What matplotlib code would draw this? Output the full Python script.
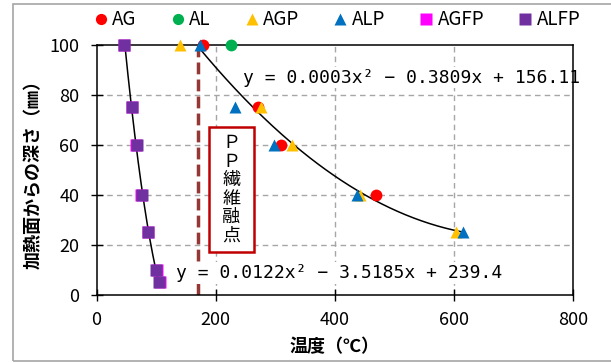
import numpy as np
import matplotlib
matplotlib.use("Agg")
import matplotlib.pyplot as plt
from matplotlib.patches import Rectangle

plt.rcParams['font.family'] = ['Noto Sans CJK JP', 'DejaVu Sans']

# depth from the heated surface (mm) and measured peak temperature (°C)
ag_t = [178, 270, 310, 469]
ag_d = [100, 75, 60, 40]
al_t = [226]
al_d = [100]
agp_t = [140, 276, 328, 442, 603]
agp_d = [100, 75, 60, 40, 25]
alp_t = [173, 232, 298, 437, 614]
alp_d = [100, 75, 60, 40, 25]
agfp_t = [46, 60, 66, 74.5, 87, 101, 107]
agfp_d = [100, 75, 60, 40, 25, 10, 5]
alfp_t = [46.5, 59, 67.3, 75.6, 86.7, 99.6, 104.1]
alfp_d = [100, 75, 60, 40, 25, 10, 5]

# quadratic trendlines y = a x^2 + b x + c
fit_main = (0.000273, -0.3809, 156.11)
fit_main_range = (170, 614)
fit_fp = (0.0122, -3.5185, 239.4)

pp_melt = 170

x_ticks = [0, 200, 400, 600, 800]
y_ticks = [0, 20, 40, 60, 80, 100]

fig = plt.figure(figsize=(6.11, 3.63), dpi=100)
ax = fig.add_axes([0.158, 0.1873, 0.7806, 0.6901])

# outer chart frame
fig.patches.append(Rectangle((13 / 611, 2 / 363), 1.2, 357 / 363, transform=fig.transFigure,
                             fill=False, edgecolor='#A6A6A6', linewidth=1.2, zorder=0))

ax.set_xlim(0, 800)
ax.set_ylim(0, 100)
ax.set_xticks(x_ticks)
ax.set_yticks(y_ticks)
ax.tick_params(direction='inout', length=9, width=1, labelsize=13, colors='black')
ax.tick_params(axis='x', pad=7)
ax.tick_params(axis='y', pad=8)
for s in ax.spines.values():
    s.set_linewidth(1.1)
    s.set_color('black')

for gx in x_ticks[1:-1]:
    ax.axvline(gx, color='#A6A6A6', lw=1, ls=(0, (4, 3)), zorder=0)
for gy in y_ticks[1:-1]:
    ax.axhline(gy, color='#A6A6A6', lw=1, ls=(0, (4, 3)), zorder=0)

# PP fibre melting point
ax.plot([pp_melt, pp_melt], [0, 98], color='#953735', lw=2.5, ls=(0, (3.4, 1.5)), zorder=1)
ax.add_patch(Rectangle((188.3, 17.2), 75.3, 50.0, facecolor='white', edgecolor='#C00000',
                       linewidth=1.8, zorder=2))
ax.text(226, 42.2, 'Ｐ\nＰ\n繊\n維\n融\n点', ha='center', va='center', fontsize=13,
        linespacing=1.03, zorder=2)

# trendlines
xm = np.linspace(*fit_main_range, 200)
ax.plot(xm, np.polyval(fit_main, xm), color='black', lw=1.1, zorder=3)
xf = np.linspace(min(alfp_t), max(alfp_t), 200)
ax.plot(xf, np.polyval(fit_fp, xf), color='black', lw=1.1, zorder=3)


def eq_label(coef, dec):
    a, b, c = coef
    sign_b = '−' if b < 0 else '+'
    sign_c = '−' if c < 0 else '+'
    return (f'y = {a:.{dec[0]}f}x² {sign_b} {abs(b):.{dec[1]}f}x '
            f'{sign_c} {abs(c):.{dec[2]}f}')


box = dict(boxstyle='square,pad=0.1', facecolor='white', edgecolor='none')
mono = ['DejaVu Sans Mono']
ax.text(245, 86.8, eq_label(fit_main, (4, 4, 2)), ha='left', va='center', fontsize=13,
        family=mono, bbox=box, zorder=2)
ax.text(134, 8.7, eq_label(fit_fp, (4, 4, 1)), ha='left', va='center', fontsize=13,
        family=mono, bbox=box, zorder=2)

ms = 8.5
series = [
    (ag_t, ag_d, 'o', '#FF0000', 'AG'),
    (al_t, al_d, 'o', '#00B050', 'AL'),
    (agp_t, agp_d, '^', '#FFC000', 'AGP'),
    (alp_t, alp_d, '^', '#0070C0', 'ALP'),
    (agfp_t, agfp_d, 's', '#FF00FF', 'AGFP'),
    (alfp_t, alfp_d, 's', '#7030A0', 'ALFP'),
]
for i, (t, d, m, c, lab) in enumerate(series):
    ax.plot(t, d, ls='none', marker=m, ms=ms, color=c, mec='none', label=lab,
            zorder=4 + i, clip_on=False)

leg = ax.legend(loc='center', bbox_to_anchor=(0.5, 1.098), ncol=6, frameon=False,
                fontsize=13.5, handletextpad=0.0, columnspacing=1.6, handlelength=1.2,
                markerscale=0.95, borderaxespad=0)

ax.set_xlabel('温度（℃）', fontsize=13, fontweight='bold', labelpad=6)
ax.set_ylabel('加熱面からの深さ（㎜）', fontsize=13, fontweight='bold', labelpad=5)

fig.savefig('out.png', dpi=100)
